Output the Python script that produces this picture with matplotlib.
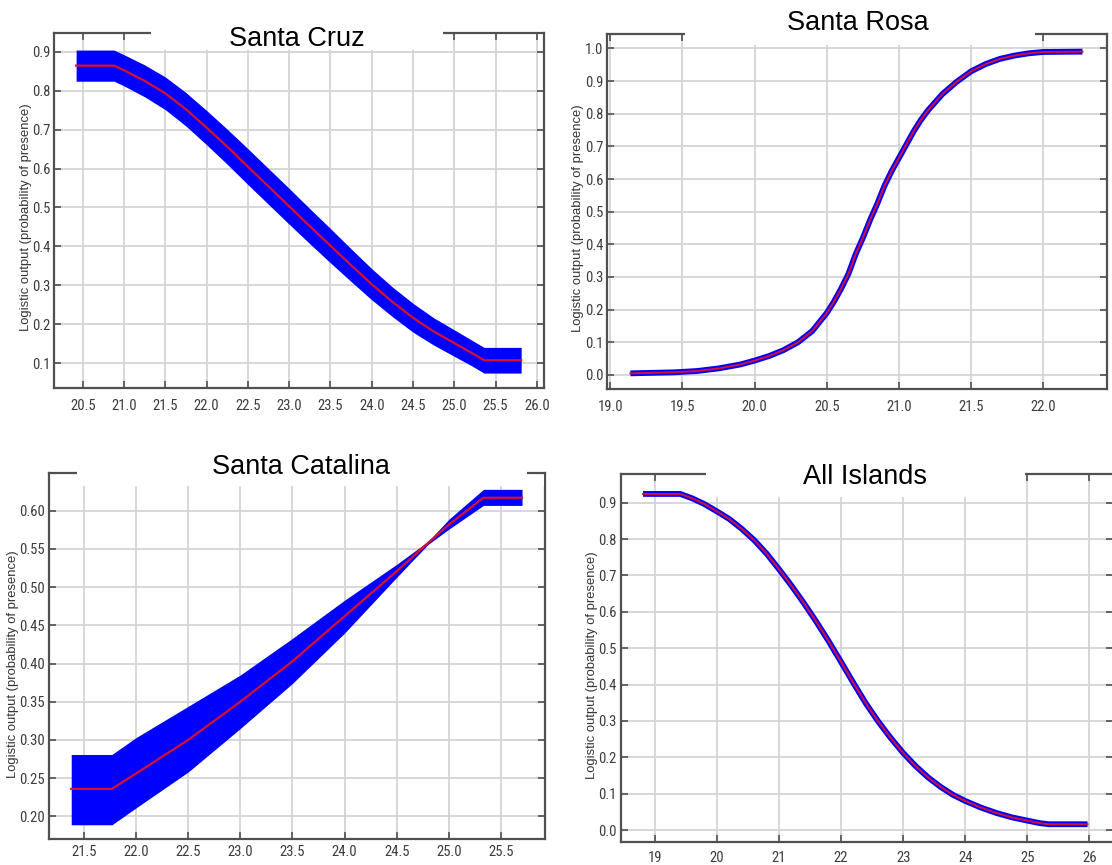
import numpy as np
import matplotlib
matplotlib.use("Agg")
import matplotlib.pyplot as plt
from matplotlib import font_manager as fm
from matplotlib.patches import Rectangle

W, H = 1112, 865

# ---- data ----
cruz_x = [20.42, 20.88, 21.0, 21.25, 21.5, 21.75, 22.0, 22.25, 22.5, 22.75, 23.0, 23.25,
          23.5, 23.75, 24.0, 24.25, 24.5, 24.75, 25.0, 25.2, 25.36, 25.81]
cruz_mean = [0.864, 0.864, 0.852, 0.825, 0.793, 0.752, 0.705, 0.656, 0.605, 0.554, 0.503, 0.452,
             0.402, 0.352, 0.303, 0.258, 0.217, 0.182, 0.152, 0.128, 0.108, 0.108]
cruz_sd = [0.040, 0.040, 0.040, 0.041, 0.042, 0.043, 0.044, 0.045, 0.046, 0.046, 0.046, 0.045,
           0.044, 0.042, 0.040, 0.038, 0.037, 0.035, 0.034, 0.033, 0.033, 0.033]

rosa_x = [19.14, 19.44, 19.6, 19.75, 19.9, 20.0, 20.1, 20.2, 20.3, 20.4, 20.5, 20.55, 20.6,
          20.65, 20.7, 20.75, 20.8, 20.85, 20.9, 20.95, 21.0, 21.05, 21.1, 21.15, 21.2, 21.3,
          21.4, 21.5, 21.6, 21.7, 21.8, 21.9, 22.0, 22.27]
rosa_mean = [0.005, 0.008, 0.012, 0.020, 0.032, 0.044, 0.058, 0.076, 0.100, 0.135, 0.190, 0.225,
             0.265, 0.310, 0.370, 0.420, 0.475, 0.525, 0.580, 0.625, 0.665, 0.705, 0.745, 0.780,
             0.810, 0.860, 0.898, 0.930, 0.952, 0.968, 0.978, 0.985, 0.989, 0.990]

cat_x = [21.38, 21.77, 22.0, 22.5, 23.0, 23.5, 24.0, 24.5, 24.8, 25.0, 25.33, 25.70]
cat_mean = [0.236, 0.236, 0.256, 0.300, 0.350, 0.403, 0.462, 0.521, 0.558, 0.582, 0.617, 0.617]
cat_low = [0.189, 0.189, 0.211, 0.258, 0.315, 0.374, 0.440, 0.513, 0.556, 0.576, 0.607, 0.607]
cat_up = [0.281, 0.281, 0.303, 0.344, 0.385, 0.433, 0.483, 0.530, 0.560, 0.589, 0.628, 0.628]

all_x = [18.81, 19.41, 19.6, 19.8, 20.0, 20.2, 20.4, 20.6, 20.8, 21.0, 21.2, 21.4, 21.6, 21.8,
         22.0, 22.2, 22.4, 22.6, 22.8, 23.0, 23.2, 23.4, 23.6, 23.8, 24.0, 24.25, 24.5, 24.75,
         25.0, 25.2, 25.35, 25.97]
all_mean = [0.924, 0.924, 0.912, 0.896, 0.876, 0.855, 0.828, 0.797, 0.760, 0.717, 0.672, 0.624,
            0.573, 0.519, 0.462, 0.404, 0.348, 0.298, 0.253, 0.212, 0.176, 0.145, 0.119, 0.097,
            0.080, 0.062, 0.047, 0.035, 0.026, 0.019, 0.016, 0.016]

titles = ["Santa Cruz", "Santa Rosa", "Santa Catalina", "All Islands"]
ylabel = "Logistic output (probability of presence)"

BLUE = "#0000ff"
RED = "#d8102e"


def narrow_font():
    # the tick labels in the original use a narrow sans face
    prefs = ["Liberation Sans Narrow", "Arial Narrow", "Roboto Condensed", "Open Sans Condensed"]
    fonts = fm.fontManager.ttflist
    for p in prefs:
        for f in fonts:
            if f.name == p and f.style == "normal" and str(f.weight) in ("400", "normal", "regular", "book"):
                return fm.FontProperties(fname=f.fname), True
    for f in fonts:
        if f.name == "DejaVu Sans" and f.stretch == "condensed" and f.style == "normal" \
                and str(f.weight) in ("400", "normal", "book"):
            return fm.FontProperties(fname=f.fname), True
    return fm.FontProperties(family=["Liberation Sans", "DejaVu Sans"]), False


tick_fp, is_narrow = narrow_font()
tick_size = 10.5 if is_narrow else 9.5

fig = plt.figure(figsize=(W / 100, H / 100), dpi=100)


def add_panel(l, t, r, b):
    return fig.add_axes([l / W, 1 - b / H, (r - l) / W, (b - t) / H])


def fx(px):
    return px / W


def fy(py):
    return 1 - py / H


def style(ax, xlim, ylim, xticks, yticks, xfmt, yfmt, xpad):
    ax.set_xlim(*xlim)
    ax.set_ylim(*ylim)
    ax.set_xticks(xticks)
    ax.set_yticks(yticks)
    ax.set_xticklabels([xfmt.format(v) for v in xticks], fontproperties=tick_fp)
    ax.set_yticklabels([yfmt.format(v) for v in yticks], fontproperties=tick_fp)
    ax.grid(True, color="#d4d4d4", lw=1.3)
    ax.set_axisbelow(True)
    ax.tick_params(direction="in", length=5, width=1.2, color="#505050",
                   top=True, right=True, labelsize=tick_size, labelcolor="#3c3c3c")
    ax.tick_params(axis="x", pad=xpad)
    ax.tick_params(axis="y", pad=3)
    for s in ax.spines.values():
        s.set_color("#505050")
        s.set_linewidth(1.6)


# Santa Cruz
ax1 = add_panel(54.3, 33.3, 544.3, 388.3)
low = np.array(cruz_mean) - np.array(cruz_sd)
up = np.array(cruz_mean) + np.array(cruz_sd)
ax1.fill_between(cruz_x, low, up, color=BLUE, lw=0)
ax1.plot(cruz_x, cruz_mean, color=RED, lw=1.6)
style(ax1, (20.156, 26.09), (0.036, 0.947), np.arange(20.5, 26.01, 0.5),
      np.arange(0.1, 0.91, 0.1), "{:.1f}", "{:.1f}", 8)

# Santa Rosa
ax2 = add_panel(607.3, 34, 1107, 389)
ax2.plot(rosa_x, rosa_mean, color=BLUE, lw=4.2, solid_capstyle="butt")
ax2.plot(rosa_x, rosa_mean, color=RED, lw=1.4)
style(ax2, (18.98, 22.44), (-0.043, 1.044), np.arange(19.0, 22.01, 0.5),
      np.arange(0.0, 1.01, 0.1), "{:.1f}", "{:.1f}", 8)

# Santa Catalina
ax3 = add_panel(49.3, 473.3, 545, 839.3)
ax3.fill_between(cat_x, cat_low, cat_up, color=BLUE, lw=0)
ax3.plot(cat_x, cat_mean, color=RED, lw=1.6)
style(ax3, (21.17, 25.92), (0.170, 0.649), np.arange(21.5, 25.51, 0.5),
      np.arange(0.20, 0.601, 0.05), "{:.1f}", "{:.2f}", 4)

# All Islands
ax4 = add_panel(620.7, 474.3, 1113, 841.7)
ax4.plot(all_x, all_mean, color=BLUE, lw=4.2, solid_capstyle="butt")
ax4.plot(all_x, all_mean, color=RED, lw=1.4)
style(ax4, (18.45, 26.38), (-0.032, 0.978), np.arange(19, 27, 1),
      np.arange(0.0, 0.91, 0.1), "{:.0f}", "{:.1f}", 7)

# white boxes behind the titles (cut the top frame)
boxes = [(151, 20, 443, 50), (685, 15, 1035, 45), (77, 450, 527, 486),
         (51, 474.6, 544, 486), (706, 450, 1025, 497)]
for l, t, r, b in boxes:
    fig.add_artist(Rectangle((fx(l), fy(b)), (r - l) / W, (b - t) / H,
                             transform=fig.transFigure, facecolor="white",
                             edgecolor="none", zorder=5))

title_pos = [(297, 46), (858, 30.5), (301, 474), (865, 484)]
for name, (x, y) in zip(titles, title_pos):
    fig.text(fx(x), fy(y), name, ha="center", va="baseline", fontsize=19.5,
             family=["Liberation Sans", "DejaVu Sans"], zorder=6)

shift = 1 if is_narrow else 4
ylab_pos = [(27, 217), (579, 218), (14.5, 664), (593.5, 665)]
for x, y in ylab_pos:
    fig.text(fx(x - shift), fy(y), ylabel, rotation=90, ha="center", va="center",
             fontsize=9.4, color="#333333",
             family=["Liberation Sans", "DejaVu Sans"])

fig.savefig("out.png", dpi=100, facecolor="white")
